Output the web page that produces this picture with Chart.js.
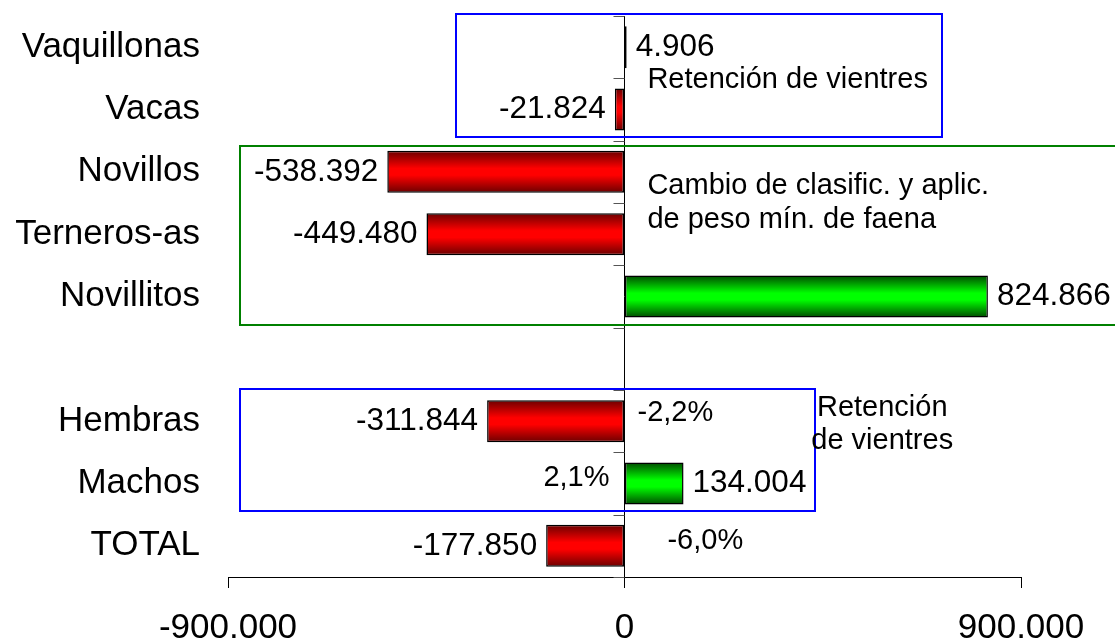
<!DOCTYPE html>
<html><head><meta charset="utf-8">
<script src="https://cdn.jsdelivr.net/npm/chart.js@4/dist/chart.umd.min.js"></script>
<style>html,body{margin:0;padding:0;background:#fff;}#wrap{width:1115px;height:642px;position:relative;}</style>
</head><body><div id="wrap"><canvas id="c" width="1115" height="642"></canvas></div>
<script>
// ---- data ----
const categories = ['Vaquillonas','Vacas','Novillos','Terneros-as','Novillitos','','Hembras','Machos','TOTAL'];
const values = [4906, -21824, -538392, -449480, 824866, null, -311844, 134004, -177850];
const valueLabels = ['4.906','-21.824','-538.392','-449.480','824.866','','-311.844','134.004','-177.850'];
const barColors = ['red','red','red','red','green',null,'red','green','red'];
const xTicks = [-900000, 0, 900000];
const xTickLabels = ['-900.000','0','900.000'];
const percentLabels = ['-2,2%','2,1%','-6,0%'];
const noteTexts = ['Retención de vientres','Cambio de clasific. y aplic.','de peso mín. de faena','Retención','de vientres'];

// ---- layout of annotations (value units / category-index units) ----
const FAM = '"Liberation Sans", Arial, sans-serif';
const barPct = 0.675;
const percentPos = [
  {x: 29500, y: 5.87, align: 'left'},
  {x: -34000, y: 6.91, align: 'right'},
  {x: 97500, y: 7.92, align: 'left'}
];
const notePos = [
  {x: 52000, y: 0.53, align: 'left'},
  {x: 52000, y: 2.23, align: 'left'},
  {x: 52000, y: 2.77, align: 'left'},
  {x: 585000, y: 5.79, align: 'center'},
  {x: 585000, y: 6.32, align: 'center'}
];
const boxes = [
  {x0: -383000, x1: 720900, y0: -0.532, y1: 1.441, color: '#0000ff'},
  {x0: -872800, x1: 1115000, y0: 1.586, y1: 4.457, color: '#008000'},
  {x0: -872800, x1: 433000, y0: 5.484, y1: 7.442, color: '#0000ff'}
];

const gradStops = {
  red: ['#6a0000', '#ff0000', '#ff0000', '#6a0000'],
  green: ['#004a00', '#00ff00', '#00ff00', '#004a00']
};

function barBg(ctx) {
  const chart = ctx.chart;
  const i = ctx.dataIndex;
  const kind = barColors[i] || 'red';
  const ys = chart.scales.y;
  if (ctx.type !== 'data' || !ys || !chart.chartArea) return gradStops[kind][1];
  const top = ys.getPixelForValue(i - barPct / 2);
  const bot = ys.getPixelForValue(i + barPct / 2);
  if (!isFinite(top) || !isFinite(bot)) return gradStops[kind][1];
  const g = chart.ctx.createLinearGradient(0, top, 0, bot);
  const s = gradStops[kind];
  g.addColorStop(0, s[0]); g.addColorStop(0.42, s[1]); g.addColorStop(0.58, s[2]); g.addColorStop(1, s[3]);
  return g;
}

const overlay = {
  id: 'overlay',
  afterDraw(chart) {
    const c = chart.ctx, xs = chart.scales.x, ys = chart.scales.y;
    const x0 = xs.getPixelForValue(0);
    c.save();
    // category boundary ticks on the zero line
    c.strokeStyle = '#555'; c.lineWidth = 1;
    for (let k = 0; k <= categories.length; k++) {
      const y = Math.round(ys.getPixelForValue(k - 0.5)) + 0.5;
      c.beginPath(); c.moveTo(x0 - 11, y); c.lineTo(x0, y); c.stroke();
    }
    // boxes
    c.lineWidth = 2;
    boxes.forEach(b => {
      const l = xs.getPixelForValue(b.x0), r = xs.getPixelForValue(b.x1);
      const t = ys.getPixelForValue(b.y0), btm = ys.getPixelForValue(b.y1);
      c.strokeStyle = b.color;
      c.strokeRect(Math.round(l), Math.round(t), Math.round(r - l), Math.round(btm - t));
    });
    // value labels
    c.fillStyle = '#000'; c.textBaseline = 'middle';
    c.font = '31.5px ' + FAM;
    values.forEach((v, i) => {
      if (v === null) return;
      const x = xs.getPixelForValue(v), y = ys.getPixelForValue(i);
      if (v < 0) { c.textAlign = 'right'; c.fillText(valueLabels[i], x - 9, y); }
      else { c.textAlign = 'left'; c.fillText(valueLabels[i], x + 9, y); }
    });
    // percent labels
    c.font = '29px ' + FAM;
    percentLabels.forEach((t, i) => {
      const p = percentPos[i];
      c.textAlign = p.align;
      c.fillText(t, xs.getPixelForValue(p.x), ys.getPixelForValue(p.y));
    });
    // notes
    noteTexts.forEach((t, i) => {
      const p = notePos[i];
      c.textAlign = p.align;
      c.fillText(t, xs.getPixelForValue(p.x), ys.getPixelForValue(p.y));
    });
    c.restore();
  }
};

new Chart(document.getElementById('c'), {
  type: 'bar',
  data: {
    labels: categories,
    datasets: [{
      data: values,
      backgroundColor: barBg,
      borderColor: '#000',
      borderWidth: 1.5,
      borderSkipped: false,
      barPercentage: barPct,
      categoryPercentage: 1
    }]
  },
  options: {
    indexAxis: 'y',
    responsive: false,
    animation: false,
    devicePixelRatio: 1,
    layout: {padding: {left: 0, right: 94, top: 16, bottom: 0}},
    plugins: {legend: {display: false}, tooltip: {enabled: false}},
    scales: {
      x: {
        type: 'linear', position: 'bottom', min: -900000, max: 900000,
        afterBuildTicks: s => { s.ticks = xTicks.map(v => ({value: v})); },
        ticks: {
          callback: v => xTickLabels[xTicks.indexOf(v)],
          font: {size: 35, family: FAM}, color: '#000', padding: 19,
          maxRotation: 0, autoSkip: false
        },
        grid: {
          color: c => (c.tick && c.tick.value === 0) ? '#000' : 'rgba(0,0,0,0)',
          tickColor: '#000', tickLength: 11, lineWidth: 1
        },
        border: {display: true, color: '#000', width: 1},
        afterFit: s => { s.height = 65; s.paddingLeft = 0; s.paddingRight = 0; }
      },
      y: {
        ticks: {font: {size: 35, family: FAM}, color: '#000', padding: 28},
        grid: {display: false, drawTicks: false},
        border: {display: false},
        afterFit: s => { s.width = 228; s.paddingTop = 0; s.paddingBottom = 0; }
      }
    }
  },
  plugins: [overlay]
});
</script>
</body></html>
